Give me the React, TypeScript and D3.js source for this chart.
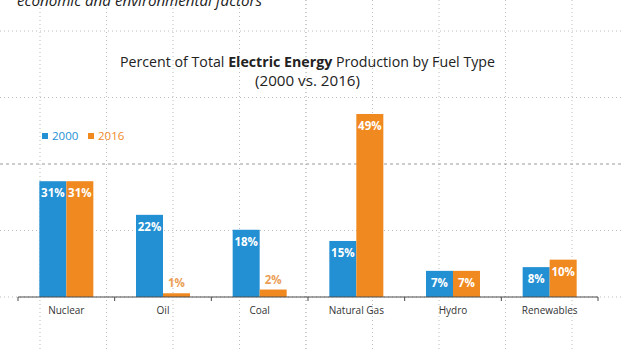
import React, { useEffect, useRef } from 'react';
import * as d3 from 'd3';

const W = 622;
const H = 352;
const MARGIN = { left: 18, right: 24, baseline: 297 };

const categories = ['Nuclear', 'Oil', 'Coal', 'Natural Gas', 'Hydro', 'Renewables'];
const series = ['2000', '2016'];
const values2000 = [31, 22, 18, 15, 7, 8];
const values2016 = [31, 1, 2, 49, 7, 10];
const COLORS = ['#2390d3', '#f0891f'];

const FONT = '"Open Sans", "DejaVu Sans", sans-serif';

const App: React.FC = () => {
  const svgRef = useRef<SVGSVGElement | null>(null);

  useEffect(() => {
    if (!svgRef.current) return;
    const svg = d3.select(svgRef.current);
    svg.selectAll('*').remove();

    svg.append('rect').attr('width', W).attr('height', H).attr('fill', '#ffffff');

    // slide background dotted grid
    const step = 66.5;
    const grid = svg.append('g');
    d3.range(40, W + 1, step).forEach((gx, i) => {
      grid.append('line')
        .attr('x1', gx).attr('x2', gx).attr('y1', 0).attr('y2', H)
        .attr('stroke', i === 4 ? '#9a9a9a' : '#bdbdbd')
        .attr('stroke-width', 1)
        .attr('stroke-dasharray', '1,3');
    });
    d3.range(MARGIN.baseline, 0, -step).forEach((gy, i) => {
      grid.append('line')
        .attr('x1', 0).attr('x2', W).attr('y1', gy).attr('y2', gy)
        .attr('stroke', i === 2 ? '#9a9a9a' : '#bcbcbc')
        .attr('stroke-width', 1)
        .attr('stroke-dasharray', i === 2 ? '3,3' : '1,3');
    });

    // cropped slide text at top
    svg.append('text')
      .attr('x', 17).attr('y', 6)
      .attr('font-family', FONT).attr('font-style', 'italic')
      .attr('font-size', 15).attr('fill', '#222')
      .attr('textLength', 245).attr('lengthAdjust', 'spacingAndGlyphs')
      .text('economic and environmental factors');

    // title
    const title = svg.append('text')
      .attr('x', 120).attr('y', 67)
      .attr('font-family', FONT).attr('font-size', 14).attr('fill', '#222')
      .attr('textLength', 375).attr('lengthAdjust', 'spacingAndGlyphs');
    title.append('tspan').text('Percent of Total ');
    title.append('tspan').attr('font-weight', 'bold').text('Electric Energy');
    title.append('tspan').text(' Production by Fuel Type');
    svg.append('text')
      .attr('x', 255).attr('y', 86)
      .attr('font-family', FONT).attr('font-size', 14).attr('fill', '#222')
      .attr('textLength', 105).attr('lengthAdjust', 'spacingAndGlyphs')
      .text('(2000 vs. 2016)');

    // legend
    const legend = svg.append('g').attr('transform', 'translate(42, 136)');
    series.forEach((s, i) => {
      const lg = legend.append('g').attr('transform', `translate(${i * 46}, 0)`);
      lg.append('rect').attr('x', 0).attr('y', -3).attr('width', 6).attr('height', 6).attr('fill', COLORS[i]);
      lg.append('text')
        .attr('x', 10).attr('y', 4)
        .attr('font-family', FONT).attr('font-size', 11.5).attr('fill', COLORS[i])
        .text(s);
    });

    const x0 = d3.scaleBand<string>()
      .domain(categories)
      .range([MARGIN.left, W - MARGIN.right])
      .padding(0);
    const x1 = d3.scaleBand<string>()
      .domain(series)
      .range([0, x0.bandwidth()])
      .paddingInner(0)
      .paddingOuter(0.79);
    const y = d3.scaleLinear().domain([0, 50]).range([MARGIN.baseline, MARGIN.baseline - 186.75]);

    const seriesValues = [values2000, values2016];
    const bars = svg.append('g');
    categories.forEach((cat, ci) => {
      series.forEach((s, si) => {
        const v = seriesValues[si][ci];
        const bx = x0(cat)! + x1(s)!;
        const top = y(v);
        bars.append('rect')
          .attr('x', bx).attr('y', top)
          .attr('width', x1.bandwidth())
          .attr('height', y(0) - top)
          .attr('fill', COLORS[si]);
        const inside = v >= 5;
        bars.append('text')
          .attr('x', bx + x1.bandwidth() / 2)
          .attr('y', inside ? top + 16 : top - 6)
          .attr('text-anchor', 'middle')
          .attr('font-family', FONT).attr('font-weight', 'bold').attr('font-size', 11.5)
          .attr('fill', inside ? '#ffffff' : '#eba057')
          .text(`${v}%`);
      });
    });

    // x axis
    const axis = svg.append('g').attr('transform', `translate(0, ${MARGIN.baseline})`);
    axis.append('line')
      .attr('x1', x0.range()[0]).attr('x2', x0.range()[1])
      .attr('stroke', '#4a4a4a').attr('stroke-width', 1);
    const edges = categories.map(c => x0(c)!).concat([x0.range()[1]]);
    edges.forEach(ex => {
      axis.append('line').attr('x1', ex).attr('x2', ex).attr('y1', 0).attr('y2', 4)
        .attr('stroke', '#4a4a4a').attr('stroke-width', 1);
    });
    categories.forEach(c => {
      axis.append('text')
        .attr('x', x0(c)! + x0.bandwidth() / 2)
        .attr('y', 17)
        .attr('text-anchor', 'middle')
        .attr('font-family', FONT).attr('font-size', 10).attr('fill', '#333')
        .text(c);
    });
  }, []);

  return (
    <div style={{ position: 'fixed', left: 0, top: 0, width: W, height: H }}>
      <svg ref={svgRef} width={W} height={H} style={{ display: 'block' }} />
    </div>
  );
};

export default App;
